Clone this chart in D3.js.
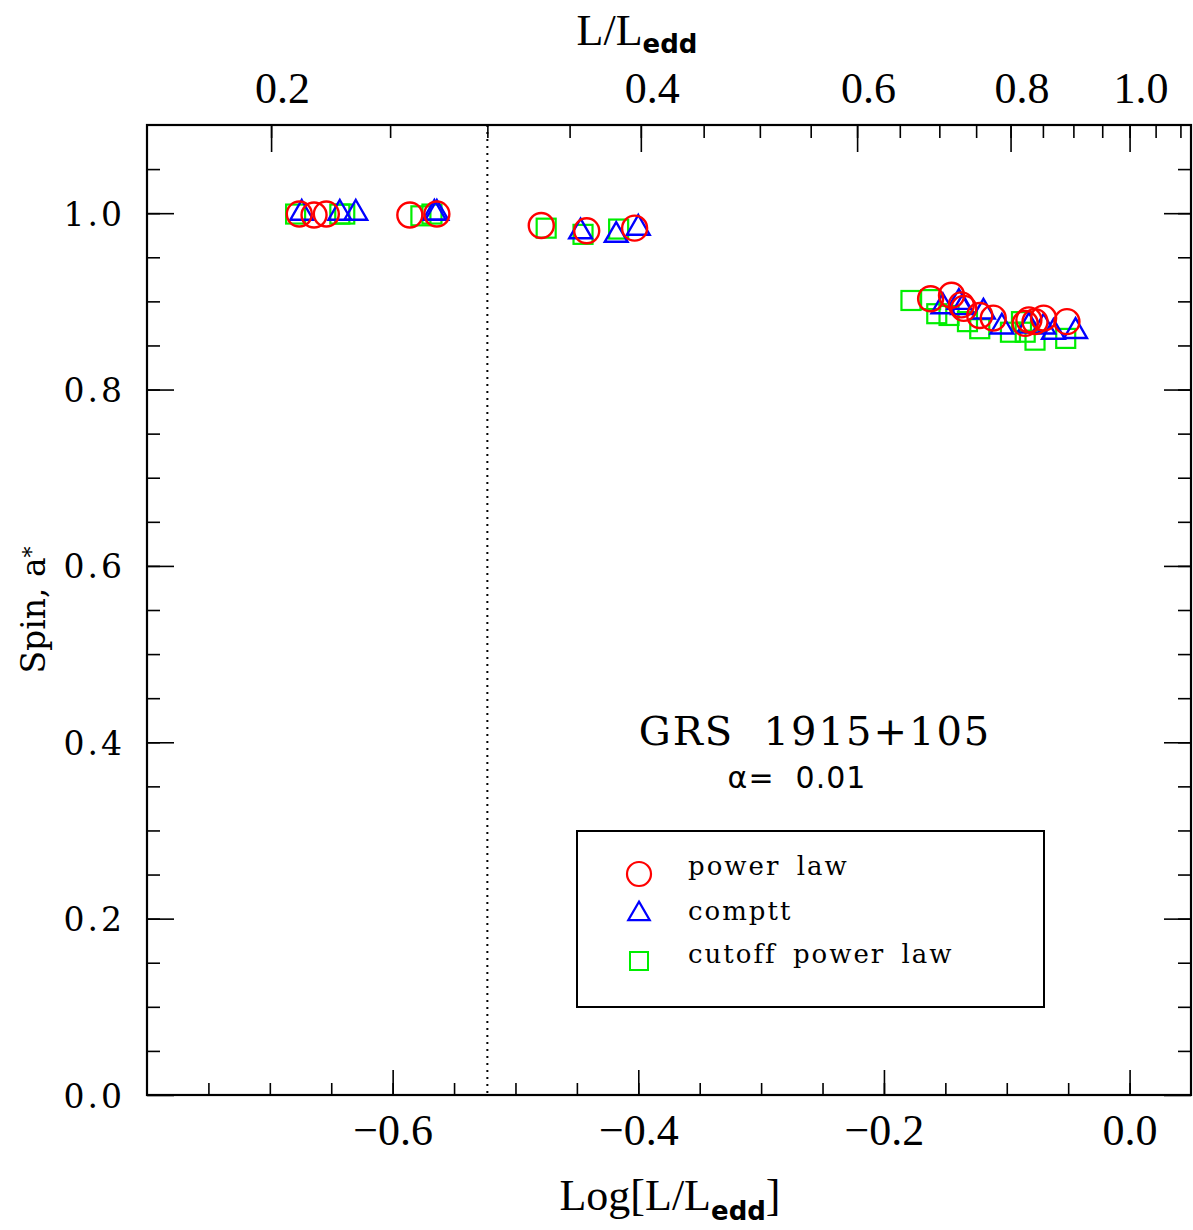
<!DOCTYPE html>
<html>
<head>
<meta charset="utf-8">
<script src="https://cdn.jsdelivr.net/npm/d3@7"></script>
<style>
  body { margin: 0; background: #fff; }
  svg text { fill: #000; }
</style>
</head>
<body>
<script>
var W = 1193, H = 1230;

// data: x = log10(L/Ledd), y = spin
var powerLawX = [-0.676, -0.664, -0.654, -0.586, -0.564, -0.479, -0.442, -0.403,
                 -0.162, -0.145, -0.137, -0.135, -0.122, -0.111, -0.085, -0.082, -0.077, -0.070, -0.051];
var powerLawY = [0.999, 0.998, 0.999, 0.998, 0.999, 0.986, 0.980, 0.983,
                 0.903, 0.907, 0.896, 0.892, 0.884, 0.881, 0.875, 0.879, 0.877, 0.881, 0.877];

var compttX = [-0.674, -0.643, -0.630, -0.566, -0.564, -0.447, -0.418, -0.400,
               -0.152, -0.139, -0.136, -0.119, -0.104, -0.082, -0.070, -0.062, -0.044];
var compttY = [1.000, 1.000, 1.000, 1.000, 1.000, 0.979, 0.975, 0.983,
               0.894, 0.899, 0.893, 0.888, 0.871, 0.872, 0.871, 0.865, 0.866];

var cutoffX = [-0.679, -0.643, -0.639, -0.577, -0.568, -0.475, -0.445, -0.416,
               -0.178, -0.162, -0.157, -0.147, -0.132, -0.122, -0.097, -0.088, -0.085, -0.077, -0.052];
var cutoffY = [0.999, 0.999, 0.999, 0.997, 0.999, 0.983, 0.976, 0.982,
               0.901, 0.902, 0.886, 0.884, 0.877, 0.869, 0.865, 0.877, 0.865, 0.856, 0.858];

var xMajor = [-0.6, -0.4, -0.2, 0.0];
var xMinor = d3.range(-0.75, 0.05, 0.05);
var yMajor = [0.0, 0.2, 0.4, 0.6, 0.8, 1.0];
var yMinor = d3.range(0.05, 1.1, 0.05);
var topMajor = [0.2, 0.4, 0.6, 0.8, 1.0];
var topMinor = d3.range(0.2, 1.11, 0.05);
var cutLine = 0.3;

var pLeft = 147, pRight = 1191, pTop = 125, pBottom = 1095;

var svg = d3.select("body").append("svg")
    .attr("width", W)
    .attr("height", H);

var x = d3.scaleLinear().domain([-0.8, 0.05]).range([pLeft, pRight]);
var xTop = d3.scaleLog().domain([Math.pow(10, -0.8), Math.pow(10, 0.05)]).range([pLeft, pRight]);
var y = d3.scaleLinear().domain([0, 1.1]).range([pBottom, pTop]);

function styleAxis(g) {
  g.select(".domain").remove();
  g.selectAll(".tick line").attr("stroke", "#000").attr("stroke-width", 1.6);
}

// bottom axis
svg.append("g").attr("transform", "translate(0," + pBottom + ")")
  .call(d3.axisBottom(x).tickValues(xMinor).tickSize(-12).tickFormat(""))
  .call(styleAxis);
var bx = svg.append("g").attr("transform", "translate(0," + pBottom + ")")
  .call(d3.axisBottom(x).tickValues(xMajor).tickSize(-25).tickPadding(0)
    .tickFormat(function(d){ return d === 0 ? "0.0" : "\u2212" + d3.format(".1f")(-d); }))
  .call(styleAxis);
bx.selectAll("text").attr("y", 50).attr("dy", 0)
  .style("font-family", "Liberation Serif").style("font-size", "44px");

// top axis
svg.append("g").attr("transform", "translate(0," + pTop + ")")
  .call(d3.axisTop(xTop).tickValues(topMinor).tickSize(-13).tickFormat(""))
  .call(styleAxis);
var tx = svg.append("g").attr("transform", "translate(0," + pTop + ")")
  .call(d3.axisTop(xTop).tickValues(topMajor).tickSize(-27).tickPadding(0)
    .tickFormat(d3.format(".1f")))
  .call(styleAxis);
tx.selectAll("text").attr("y", -22).attr("dy", 0).attr("dx", 11)
  .style("font-family", "Liberation Serif").style("font-size", "44px");

// left axis
svg.append("g").attr("transform", "translate(" + pLeft + ",0)")
  .call(d3.axisLeft(y).tickValues(yMinor).tickSize(-13).tickFormat(""))
  .call(styleAxis);
var ly = svg.append("g").attr("transform", "translate(" + pLeft + ",0)")
  .call(d3.axisLeft(y).tickValues(yMajor).tickSize(-27).tickPadding(0)
    .tickFormat(d3.format(".1f")))
  .call(styleAxis);
ly.selectAll("text").attr("x", -22).attr("dy", 12)
  .style("font-family", "DejaVu Serif").style("font-size", "33px")
  .style("letter-spacing", "3px");

// right axis
svg.append("g").attr("transform", "translate(" + pRight + ",0)")
  .call(d3.axisRight(y).tickValues(yMinor).tickSize(-13).tickFormat(""))
  .call(styleAxis);
svg.append("g").attr("transform", "translate(" + pRight + ",0)")
  .call(d3.axisRight(y).tickValues(yMajor).tickSize(-27).tickFormat(""))
  .call(styleAxis);

// frame
svg.append("rect")
  .attr("x", pLeft).attr("y", pTop)
  .attr("width", pRight - pLeft).attr("height", pBottom - pTop)
  .attr("fill", "none").attr("stroke", "#000").attr("stroke-width", 2.2);

// dotted line at L/Ledd = 0.3
svg.append("line")
  .attr("x1", x(Math.log10(cutLine))).attr("x2", x(Math.log10(cutLine)))
  .attr("y1", pTop).attr("y2", pBottom)
  .attr("stroke", "#000").attr("stroke-width", 2)
  .attr("stroke-dasharray", "2,5");

// markers
var plot = svg.append("g");
var sq = 19;

plot.selectAll("rect.cut")
  .data(d3.zip(cutoffX, cutoffY))
  .enter().append("rect")
  .attr("class", "cut")
  .attr("x", function(d){ return x(d[0]) - sq / 2; })
  .attr("y", function(d){ return y(d[1]) - sq / 2; })
  .attr("width", sq).attr("height", sq)
  .attr("fill", "none").attr("stroke", "#00ee00").attr("stroke-width", 2.2);

var tri = d3.symbol().type(d3.symbolTriangle).size(225);
plot.selectAll("path.tri")
  .data(d3.zip(compttX, compttY))
  .enter().append("path")
  .attr("class", "tri")
  .attr("d", tri)
  .attr("transform", function(d){ return "translate(" + x(d[0]) + "," + y(d[1]) + ")"; })
  .attr("fill", "none").attr("stroke", "#0000ff").attr("stroke-width", 2.4);

plot.selectAll("circle.pl")
  .data(d3.zip(powerLawX, powerLawY))
  .enter().append("circle")
  .attr("class", "pl")
  .attr("cx", function(d){ return x(d[0]); })
  .attr("cy", function(d){ return y(d[1]); })
  .attr("r", 12.5)
  .attr("fill", "none").attr("stroke", "#ff0000").attr("stroke-width", 2.4);

// annotation
svg.append("text").attr("x", 815).attr("y", 745)
  .attr("text-anchor", "middle")
  .style("font-family", "DejaVu Serif").style("font-size", "40px")
  .style("letter-spacing", "2px")
  .text("GRS\u00a0\u00a01915+105");
svg.append("text").attr("x", 797).attr("y", 788)
  .attr("text-anchor", "middle")
  .style("font-family", "DejaVu Sans").style("font-size", "30px")
  .style("letter-spacing", "1px")
  .text("\u03b1=\u00a0\u00a00.01");

// legend
svg.append("rect")
  .attr("x", 577).attr("y", 831).attr("width", 467).attr("height", 176)
  .attr("fill", "none").attr("stroke", "#000").attr("stroke-width", 2);

var legendNames = ["power law", "comptt", "cutoff power law"];
var legendY = [874, 914, 961];
var lg = svg.append("g");
lg.append("circle").attr("cx", 639).attr("cy", legendY[0]).attr("r", 12)
  .attr("fill", "none").attr("stroke", "#ff0000").attr("stroke-width", 2.2);
lg.append("path").attr("d", d3.symbol().type(d3.symbolTriangle).size(200)).attr("transform", "translate(639," + legendY[1] + ")")
  .attr("fill", "none").attr("stroke", "#0000ff").attr("stroke-width", 2.2);
lg.append("rect").attr("x", 630).attr("y", legendY[2] - 9).attr("width", 18).attr("height", 18)
  .attr("fill", "none").attr("stroke", "#00ee00").attr("stroke-width", 2);
lg.selectAll("text")
  .data(legendNames)
  .enter().append("text")
  .attr("x", 688)
  .attr("y", function(d, i){ return [875, 920, 963][i]; })
  .style("font-family", "DejaVu Serif").style("font-size", "26px")
  .style("letter-spacing", "2px")
  .style("word-spacing", "6px")
  .text(function(d){ return d; });

// axis titles
var xt = svg.append("text").attr("x", 670).attr("y", 1210)
  .attr("text-anchor", "middle")
  .style("font-family", "Liberation Serif").style("font-size", "44px");
xt.append("tspan").text("Log[L/L");
xt.append("tspan").attr("dy", 10).style("font-size", "26px").style("font-family", "DejaVu Sans").style("font-weight", "600").text("edd");
xt.append("tspan").attr("dy", -10).text("]");

var tt = svg.append("text").attr("x", 637).attr("y", 45)
  .attr("text-anchor", "middle")
  .style("font-family", "Liberation Serif").style("font-size", "44px");
tt.append("tspan").text("L/L");
tt.append("tspan").attr("dy", 8).style("font-size", "26px").style("font-family", "DejaVu Sans").style("font-weight", "600").text("edd");

var yt = svg.append("text")
  .attr("transform", "translate(45,610) rotate(-90)")
  .attr("text-anchor", "middle")
  .style("font-family", "DejaVu Serif").style("font-size", "33px");
yt.append("tspan").text("Spin, a");
yt.append("tspan").attr("dy", -6).style("font-size", "22px").text("*");
</script>
</body>
</html>
